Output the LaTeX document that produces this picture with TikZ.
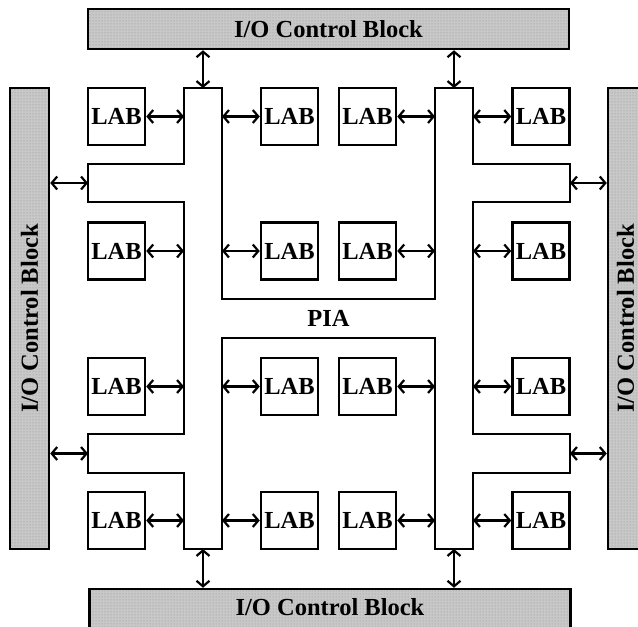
\documentclass[tikz,border=0pt]{standalone}
\usepackage{fontspec}
\setmainfont{Liberation Serif}
\usetikzlibrary{arrows.meta,patterns}
\definecolor{iogray}{RGB}{200,200,200}
\definecolor{dotgray}{RGB}{140,140,140}
\begin{document}
\begin{tikzpicture}[x=1pt,y=-1pt,
  lab/.style={draw,line width=2.5pt,fill=white,minimum size=57pt,inner sep=0pt,
    font=\fontsize{24.5}{26}\selectfont\bfseries},
  iobox/.style={draw,line width=2.5pt,preaction={fill=iogray},pattern=dots,pattern color=dotgray,inner sep=0pt},
  iotext/.style={font=\fontsize{24.5}{26}\selectfont\bfseries,inner sep=0pt},
  bus/.style={draw,line width=2.5pt,fill=white,line join=miter},
  bi/.style={{Straight Barb[length=5.5pt,width=13pt]}-{Straight Barb[length=5.5pt,width=13pt]},line width=2.2pt}]
\useasboundingbox (0,0) rectangle (638,627);
\clip (0,0) rectangle (638,627);
% I/O blocks
\node[iobox,minimum width=481pt,minimum height=40pt] (iot) at (328.5,29) {};
\node[iotext] (iottxt) at (328.5,29) {I/O Control Block};
\node[iobox,minimum width=481pt,minimum height=40pt] (iob) at (330,609) {};
\node[iotext] (iobtxt) at (330,607.5) {I/O Control Block};
\node[iobox,minimum width=39pt,minimum height=461pt] (iol) at (29.5,318.5) {};
\node[iotext,rotate=90] (ioltxt) at (29.5,318.5) {I/O Control Block};
\node[iobox,minimum width=39pt,minimum height=461pt] (ior) at (627.5,318.5) {};
\node[iotext,rotate=90] (iortxt) at (625.5,318.5) {I/O Control Block};
% PIA interconnect
\draw[bus] (184,88) -- (222,88) -- (222,299) -- (435,299) -- (435,88) -- (473,88)
  -- (473,164) -- (570,164) -- (570,202) -- (473,202) -- (473,434) -- (570,434)
  -- (570,473) -- (473,473) -- (473,549) -- (435,549) -- (435,338) -- (222,338)
  -- (222,549) -- (184,549) -- (184,473) -- (88,473) -- (88,434) -- (184,434)
  -- (184,202) -- (88,202) -- (88,164) -- (184,164) -- cycle;
\node[iotext] (pia) at (328.5,318.5) {PIA};
\coordinate (LBl) at (184,0);
\coordinate (LBr) at (222,0);
\coordinate (RBl) at (435,0);
\coordinate (RBr) at (473,0);
\coordinate (LBtop) at (203,88);
\coordinate (LBbot) at (203,549);
\coordinate (RBtop) at (454,88);
\coordinate (RBbot) at (454,549);
\coordinate (SL1) at (88,183);
\coordinate (SL2) at (88,453.5);
\coordinate (SR1) at (570,183);
\coordinate (SR2) at (570,453.5);
% LABs
\foreach \r/\y in {1/116.5,2/251,3/386.5,4/520.5}{
  \node[lab] (a\r) at (116.5,\y) {LAB};
  \node[lab] (b\r) at (289.5,\y) {LAB};
  \node[lab] (c\r) at (367.5,\y) {LAB};
  \node[lab] (d\r) at (541,\y) {LAB};
  \draw[bi] (a\r.east) -- (a\r.east -| LBl);
  \draw[bi] (b\r.west -| LBr) -- (b\r.west);
  \draw[bi] (c\r.east) -- (c\r.east -| RBl);
  \draw[bi] (d\r.west -| RBr) -- (d\r.west);
}
% I/O connections
\draw[bi] (iot.south -| LBtop) -- (LBtop);
\draw[bi] (iot.south -| RBtop) -- (RBtop);
\draw[bi] (LBbot) -- (iob.north -| LBbot);
\draw[bi] (RBbot) -- (iob.north -| RBbot);
\draw[bi] (iol.east |- SL1) -- (SL1);
\draw[bi] (iol.east |- SL2) -- (SL2);
\draw[bi] (SR1) -- (ior.west |- SR1);
\draw[bi] (SR2) -- (ior.west |- SR2);
\end{tikzpicture}
\end{document}
